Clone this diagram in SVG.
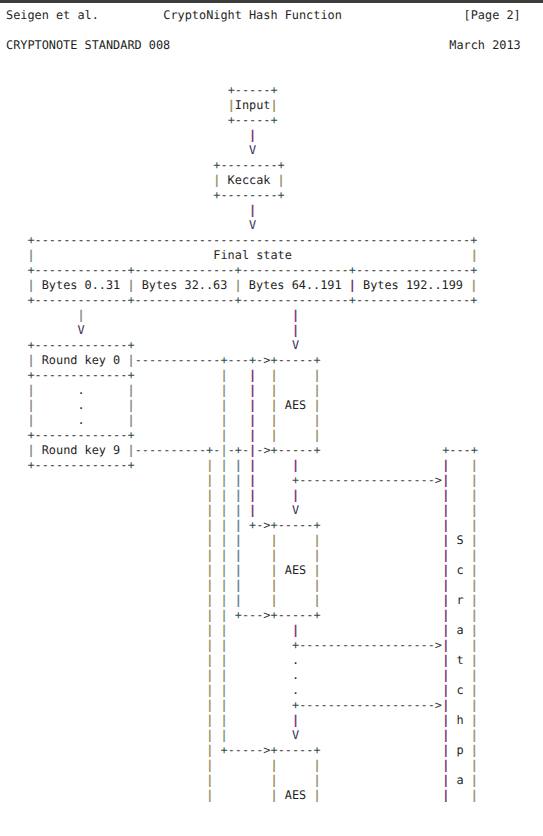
<svg xmlns="http://www.w3.org/2000/svg" width="543" height="836" viewBox="0 0 543 836">
<style>
text{font-family:"DejaVu Sans Mono","Liberation Mono",monospace;font-size:11.875px;fill:#1f1f1f;white-space:pre;text-rendering:geometricPrecision}
.tan{fill:#938c62;stroke:#938c62;stroke-width:0.35}
.pur{fill:#6e1c6a;stroke:#6e1c6a;stroke-width:0.35}
.tea{fill:#80907c;stroke:#80907c;stroke-width:0.35}
.blu{fill:#66788c;stroke:#66788c;stroke-width:0.35}
.gry{fill:#858580;stroke:#858580;stroke-width:0.35}
.pl{fill:#2f4d4d}.v{fill:#3b2b55}.d{fill:#333}
</style>
<rect x="0" y="0" width="543" height="3" fill="#3c3c3c"/>
<g id="header">
<text x="6" y="19">Seigen et al.</text>
<text x="163.3" y="19">CryptoNight Hash Function</text>
<text x="463.6" y="19">[Page 2]</text>
<text x="6" y="49">CRYPTONOTE STANDARD 008</text>
<text x="449.3" y="49">March 2013</text>
</g>
<g id="input">
<text x="227.65" y="94"><tspan class="pl">+</tspan>-----<tspan class="pl">+</tspan></text>
<text x="227.65" y="109"><tspan class="tan">|</tspan>Input<tspan class="tan">|</tspan></text>
<text x="227.65" y="124"><tspan class="pl">+</tspan>-----<tspan class="pl">+</tspan></text>
</g>
<g id="keccak">
<text x="213.35" y="169"><tspan class="pl">+</tspan>--------<tspan class="pl">+</tspan></text>
<text x="213.35" y="184"><tspan class="tan">|</tspan> Keccak <tspan class="tan">|</tspan></text>
<text x="213.35" y="199"><tspan class="pl">+</tspan>--------<tspan class="pl">+</tspan></text>
</g>
<g id="final-state">
<text x="27.45" y="244"><tspan class="pl">+</tspan>-------------<tspan>-</tspan>--------------<tspan>-</tspan>---------------<tspan>-</tspan>----------------<tspan class="pl">+</tspan></text>
<text x="27.45" y="259" class="gry">|</text>
<text x="213.35" y="259">Final state</text>
<text x="470.75" y="259" class="tan">|</text>
<text x="27.45" y="274"><tspan class="pl">+</tspan>-------------<tspan class="pl">+</tspan>--------------<tspan class="pl">+</tspan>---------------<tspan class="pl">+</tspan>----------------<tspan class="pl">+</tspan></text>
<text x="27.45" y="289"><tspan class="gry">|</tspan> Bytes 0..31 <tspan class="gry">|</tspan> Bytes 32..63 <tspan class="tan">|</tspan> Bytes 64..191 <tspan class="pur">|</tspan> Bytes 192..199 <tspan class="tan">|</tspan></text>
<text x="27.45" y="304"><tspan class="pl">+</tspan>-------------<tspan class="pl">+</tspan>--------------<tspan class="pl">+</tspan>---------------<tspan class="pl">+</tspan>----------------<tspan class="pl">+</tspan></text>
</g>
<g id="round-keys">
<text x="27.45" y="349"><tspan class="pl">+</tspan>-------------<tspan class="pl">+</tspan></text>
<text x="27.45" y="364"><tspan class="gry">|</tspan> Round key 0 <tspan class="gry">|</tspan></text>
<text x="27.45" y="379"><tspan class="pl">+</tspan>-------------<tspan class="pl">+</tspan></text>
<text x="27.45" y="394"><tspan class="gry">|</tspan>      .      <tspan class="gry">|</tspan></text>
<text x="27.45" y="409"><tspan class="gry">|</tspan>      .      <tspan class="gry">|</tspan></text>
<text x="27.45" y="424"><tspan class="gry">|</tspan>      .      <tspan class="gry">|</tspan></text>
<text x="27.45" y="439"><tspan class="pl">+</tspan>-------------<tspan class="pl">+</tspan></text>
<text x="27.45" y="454"><tspan class="gry">|</tspan> Round key 9 <tspan class="gry">|</tspan></text>
<text x="27.45" y="469"><tspan class="pl">+</tspan>-------------<tspan class="pl">+</tspan></text>
</g>
<g id="aes-1">
<text x="270.55" y="364"><tspan class="pl">+</tspan>-----<tspan class="pl">+</tspan></text>
<text x="270.55" y="379"><tspan class="tan">|</tspan>     <tspan class="tan">|</tspan></text>
<text x="270.55" y="394"><tspan class="tan">|</tspan>     <tspan class="tan">|</tspan></text>
<text x="270.55" y="409"><tspan class="tan">|</tspan> AES <tspan class="tan">|</tspan></text>
<text x="270.55" y="424"><tspan class="tan">|</tspan>     <tspan class="tan">|</tspan></text>
<text x="270.55" y="439"><tspan class="tan">|</tspan>     <tspan class="tan">|</tspan></text>
<text x="270.55" y="454"><tspan class="pl">+</tspan>-----<tspan class="pl">+</tspan></text>
</g>
<g id="aes-2">
<text x="270.55" y="529"><tspan class="pl">+</tspan>-----<tspan class="pl">+</tspan></text>
<text x="270.55" y="544"><tspan class="tan">|</tspan>     <tspan class="tan">|</tspan></text>
<text x="270.55" y="559"><tspan class="tan">|</tspan>     <tspan class="tan">|</tspan></text>
<text x="270.55" y="574"><tspan class="tan">|</tspan> AES <tspan class="tan">|</tspan></text>
<text x="270.55" y="589"><tspan class="tan">|</tspan>     <tspan class="tan">|</tspan></text>
<text x="270.55" y="604"><tspan class="tan">|</tspan>     <tspan class="tan">|</tspan></text>
<text x="270.55" y="619"><tspan class="pl">+</tspan>-----<tspan class="pl">+</tspan></text>
</g>
<g id="aes-3">
<text x="270.55" y="754"><tspan class="pl">+</tspan>-----<tspan class="pl">+</tspan></text>
<text x="270.55" y="769"><tspan class="tan">|</tspan>     <tspan class="tan">|</tspan></text>
<text x="270.55" y="784"><tspan class="tan">|</tspan>     <tspan class="tan">|</tspan></text>
<text x="270.55" y="799"><tspan class="tan">|</tspan> AES <tspan class="tan">|</tspan></text>
</g>
<g id="scratchpad">
<text x="442.15" y="454"><tspan class="pl">+</tspan>---<tspan class="pl">+</tspan></text>
<text class="pur" x="442.15 442.15 442.15 442.15 442.15 442.15 442.15 442.15 442.15 442.15 442.15 442.15 442.15 442.15 442.15 442.15 442.15 442.15 442.15 442.15 442.15 442.15 442.15" y="469 484 499 514 529 544 559 574 589 604 619 634 649 664 679 694 709 724 739 754 769 784 799">|||||||||||||||||||||||</text>
<text class="tan" x="470.75 470.75 470.75 470.75 470.75 470.75 470.75 470.75 470.75 470.75 470.75 470.75 470.75 470.75 470.75 470.75 470.75 470.75 470.75 470.75 470.75 470.75 470.75" y="469 484 499 514 529 544 559 574 589 604 619 634 649 664 679 694 709 724 739 754 769 784 799">|||||||||||||||||||||||</text>
<text x="456.45 456.45 456.45 456.45 456.45 456.45 456.45 456.45 456.45" y="544 574 604 634 664 694 724 754 784">Scratchpa</text>
</g>
<g id="connectors">
<text class="pur" x="249.1" y="139">|</text>
<text class="v" x="249.1" y="154">V</text>
<text class="pur" x="249.1" y="214">|</text>
<text class="v" x="249.1" y="229">V</text>
<text class="gry" x="77.5" y="319">|</text>
<text class="v" x="77.5" y="334">V</text>
<text class="pur" x="292 292" y="319 334">||</text>
<text class="v" x="292" y="349">V</text>
<text x="134.7" y="364" class="d">------------<tspan class="pl">+</tspan>---<tspan class="pl">+</tspan>-&gt;</text>
<text class="tea" x="220.5 220.5 220.5 220.5 220.5 220.5 220.5 220.5 220.5 220.5 220.5 220.5 220.5 220.5 220.5 220.5 220.5 220.5 220.5 220.5 220.5 220.5 220.5 220.5 220.5" y="379 394 409 424 439 454 469 484 499 514 529 544 559 574 589 604 619 634 649 664 679 694 709 724 739">|||||||||||||||||||||||||</text>
<text class="pur" x="249.1 249.1 249.1 249.1 249.1 249.1 249.1 249.1 249.1 249.1" y="379 394 409 424 439 454 469 484 499 514">||||||||||</text>
<text x="249.1" y="529" class="d"><tspan class="pl">+</tspan>-&gt;</text>
<text x="220.5" y="754" class="d"><tspan class="pl">+</tspan>-----&gt;</text>
<text x="134.7" y="454" class="d">----------<tspan class="pl">+</tspan>-</text>
<text x="227.65" y="454" class="d">-<tspan class="pl">+</tspan>-</text>
<text x="256.25" y="454" class="d">-&gt;</text>
<text class="tan" x="206.2 206.2 206.2 206.2 206.2 206.2 206.2 206.2 206.2 206.2 206.2 206.2 206.2 206.2 206.2 206.2 206.2 206.2 206.2 206.2 206.2 206.2 206.2" y="469 484 499 514 529 544 559 574 589 604 619 634 649 664 679 694 709 724 739 754 769 784 799">|||||||||||||||||||||||</text>
<text class="blu" x="234.8 234.8 234.8 234.8 234.8 234.8 234.8 234.8 234.8 234.8" y="469 484 499 514 529 544 559 574 589 604">||||||||||</text>
<text x="234.8" y="619" class="d"><tspan class="pl">+</tspan>---&gt;</text>
<text class="pur" x="292" y="469">|</text>
<text x="292" y="484" class="d"><tspan class="pl">+</tspan>-------------------&gt;</text>
<text class="pur" x="292" y="499">|</text>
<text class="v" x="292" y="514">V</text>
<text class="pur" x="292" y="634">|</text>
<text x="292" y="649" class="d"><tspan class="pl">+</tspan>-------------------&gt;</text>
<text x="292 292 292" y="664 679 694">...</text>
<text x="292" y="709" class="d"><tspan class="pl">+</tspan>-------------------&gt;</text>
<text class="pur" x="292" y="724">|</text>
<text class="v" x="292" y="739">V</text>
</g>
</svg>
